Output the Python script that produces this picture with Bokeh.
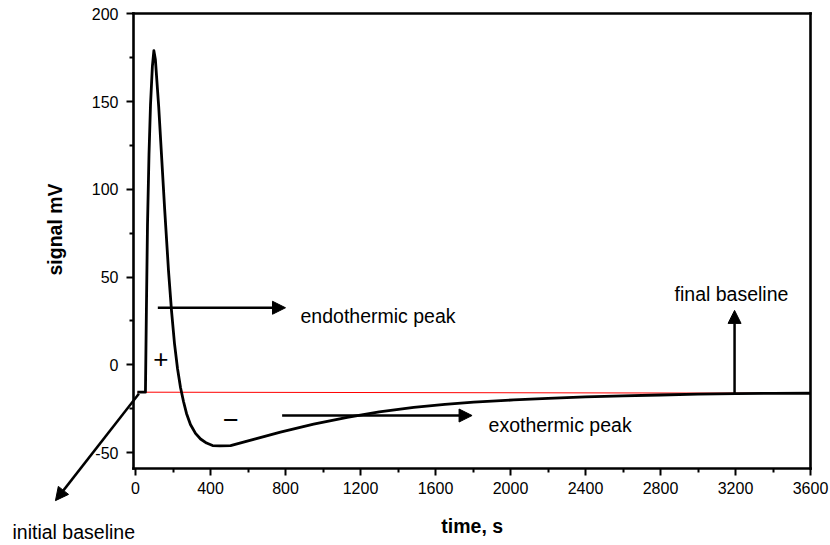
from bokeh.plotting import figure
from bokeh.models import (Range1d, FixedTicker, Label, Arrow, NormalHead, LinearAxis)
from bokeh.embed import file_html
from bokeh.resources import INLINE
import math

# ---- data ----
time_s = [10, 30, 53, 58, 64, 72, 80, 90, 98, 106, 124, 139, 155, 176, 192, 208, 224,
          240, 256, 272, 293, 320, 347, 379, 411, 450, 507, 640, 773, 950,
          1129, 1300, 1484, 1650, 1804, 2017, 2200, 2400, 2600, 2800, 3000, 3200, 3400, 3600]
signal_mv = [-15.6, -15.6, -15.6, 30, 80, 120, 148, 170, 179, 174, 146.6, 119, 89.6, 53.7, 30.9, 12.1, -2.1,
             -12.9, -20.9, -27.7, -34.0, -39.1, -42.3, -44.6, -46.0, -46.2, -46, -42.2, -38.4, -33.8,
             -29.9, -26.8, -24.2, -22.6, -21.3, -20.0, -19.1, -18.3, -17.7, -17.2, -16.7, -16.4, -16.3, -16.2]

baseline_t = [10, 3600]
baseline_mv = [-15.6, -16.2]

x_ticks = [0, 400, 800, 1200, 1600, 2000, 2400, 2800, 3200, 3600]
x_minor = [200, 600, 1000, 1400, 1800, 2200, 2600, 3000, 3400]
y_ticks = [-50, 0, 50, 100, 150, 200]
y_minor = [-25, 25, 75, 125, 175]

# axis box (data limits of the drawn frame)
x_box = (-11, 3600)
y_box = (-59, 200)

# annotation arrows: (x_start, y_start, x_end, y_end)
arrow_endo = (119, 32.5, 800, 32.5)
arrow_exo = (782, -28.9, 1795, -28.9)
arrow_final = (3195, -16.2, 3195, 31)
arrow_initial = (18, -16.5, -427, -77.4)

# texts: (text, x, y)
txt_endo = ("endothermic peak", 880, 28)
txt_exo = ("exothermic peak", 1883, -34.5)
txt_final = ("final baseline", 2875, 40.5)
txt_initial = ("initial baseline", -656, -95.0)
txt_plus = ("+", 135, 3.4)
txt_minus = ("\u2212", 509, -31.2)
xlabel = ("time, s", 1796, -91.6)
ylabel = ("signal mV", -432, 77.1)

FONT = "Liberation Sans"
W, H = 830, 545
X_PER_PX = 400 / 75.0
Y_PER_PX = 1 / 1.755
x0_px, y0_px = 135, 364.3

p = figure(width=W, height=H, output_backend="svg", toolbar_location=None,
           x_axis_location=None, y_axis_location=None,
           x_range=Range1d(-x0_px * X_PER_PX, (W - x0_px) * X_PER_PX),
           y_range=Range1d((y0_px - H) * Y_PER_PX, y0_px * Y_PER_PX),
           min_border=0, min_border_left=0, min_border_right=0,
           min_border_top=0, min_border_bottom=0)
p.grid.visible = False
p.background_fill_color = "white"
p.border_fill_color = "white"
p.outline_line_color = None


def make_axis(ticks, minor, fixed, bounds, labels=True):
    ax = LinearAxis(fixed_location=fixed, bounds=bounds)
    ax.ticker = FixedTicker(ticks=ticks, minor_ticks=minor)
    ax.axis_line_width = 2.6
    ax.axis_line_color = "black"
    ax.axis_line_cap = "square"
    ax.major_tick_line_width = 2
    ax.minor_tick_line_width = 2
    ax.major_tick_out = 7
    ax.major_tick_in = 0
    ax.minor_tick_out = 4
    ax.minor_tick_in = 0
    ax.major_label_text_font = FONT
    ax.major_label_text_font_size = "16px"
    ax.major_label_text_color = "black"
    if labels:
        ax.major_label_overrides = {t: str(t) for t in ticks}
    else:
        ax.major_label_text_alpha = 0
        ax.major_tick_line_color = None
        ax.minor_tick_line_color = None
    return ax


xb = make_axis(x_ticks, x_minor, y_box[0], x_box)
xb.major_label_standoff = 7
p.add_layout(xb, "below")
yl = make_axis(y_ticks, y_minor, x_box[0], y_box)
yl.major_label_standoff = 8
p.add_layout(yl, "left")
p.add_layout(make_axis([], [], y_box[1], x_box, labels=False), "above")
p.add_layout(make_axis([], [], x_box[1], y_box, labels=False), "right")

p.line(baseline_t, baseline_mv, line_color="#ff0000", line_width=1)
p.line(time_s, signal_mv, line_color="black", line_width=2.8, line_join="round")

for (x0, y0, x1, y1) in (arrow_endo, arrow_exo, arrow_final, arrow_initial):
    p.add_layout(Arrow(end=NormalHead(size=13, fill_color="black", line_color="black", line_width=1),
                       x_start=x0, y_start=y0, x_end=x1, y_end=y1,
                       line_width=2.5, line_color="black"))

for (t, x, y) in (txt_endo, txt_exo):
    p.add_layout(Label(x=x, y=y, text=t, text_font=FONT, text_font_size="19.5px",
                       text_baseline="middle", text_align="left", text_color="black"))
for (t, x, y) in (txt_final, txt_initial):
    p.add_layout(Label(x=x, y=y, text=t, text_font=FONT, text_font_size="19.5px",
                       text_baseline="alphabetic", text_align="left", text_color="black"))
p.add_layout(Label(x=txt_plus[1], y=txt_plus[2], text=txt_plus[0], text_font=FONT,
                   text_font_size="26px", text_align="center", text_baseline="middle",
                   text_color="black"))
p.add_layout(Label(x=txt_minus[1], y=txt_minus[2], text=txt_minus[0], text_font=FONT,
                   text_font_size="27px", text_align="center", text_baseline="middle",
                   text_color="black"))
p.add_layout(Label(x=xlabel[1], y=xlabel[2], text=xlabel[0], text_font=FONT,
                   text_font_size="19.5px", text_font_style="bold", text_color="black",
                   text_align="center", text_baseline="alphabetic"))
p.add_layout(Label(x=ylabel[1], y=ylabel[2], text=ylabel[0], text_font=FONT,
                   text_font_size="19.5px", text_font_style="bold", angle=math.pi / 2,
                   text_color="black", text_align="center", text_baseline="middle"))

open("out.html", "w").write(file_html(p, INLINE))
